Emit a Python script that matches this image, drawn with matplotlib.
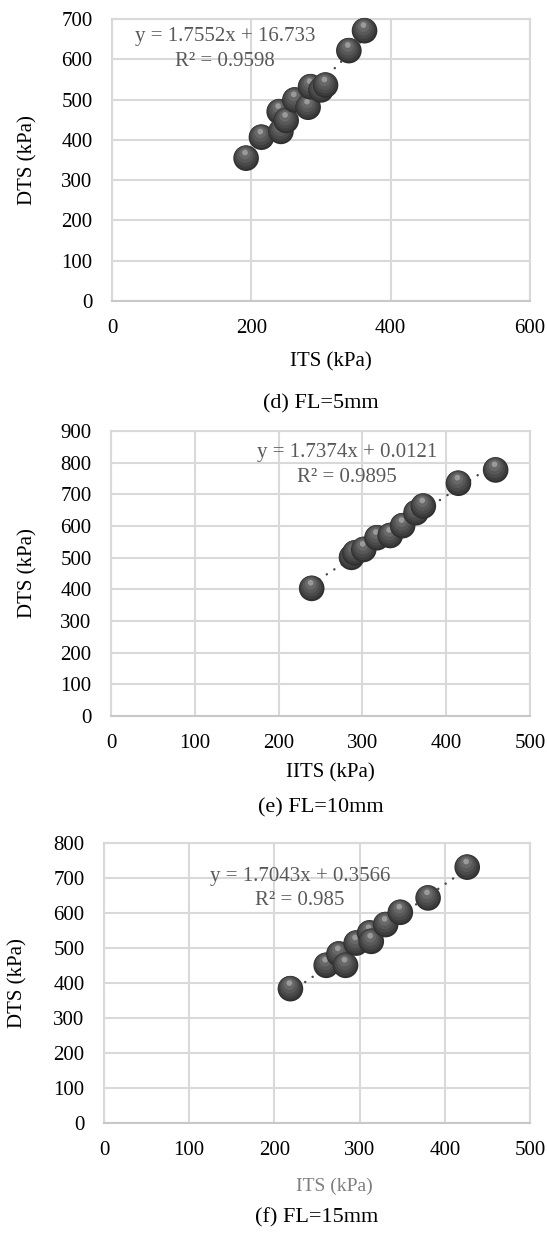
import numpy as np
import matplotlib
matplotlib.use("Agg")
import matplotlib.pyplot as plt
from matplotlib.transforms import offset_copy

plt.rcParams['font.family'] = ['Liberation Serif', 'DejaVu Serif']

# ---------------- data ----------------
its_5 = [192.5, 214.5, 240, 242.5, 250, 262.5, 281.5, 285, 300, 306.5, 340, 362.5]
dts_5 = [354.5, 406.6, 470, 421, 448, 499, 481, 532, 524, 536, 621.5, 671]

its_10 = [239.5, 287, 291, 301.6, 317.4, 333.2, 348, 364, 372.7, 414.6, 459]
dts_10 = [403, 501, 515, 526, 563, 570, 601, 642, 663, 735, 777]

its_15 = [218.8, 260.8, 275.7, 283.5, 296, 311.8, 313.7, 330.6, 347.8, 380.4, 426.3]
dts_15 = [383.8, 450.5, 483, 450.5, 514, 543, 519, 567, 602, 643, 731]

slopes = [1.7552, 1.7374, 1.7043]
intercepts = [16.733, 0.0121, 0.3566]
r2_labels = ["R² = 0.9598", "R² = 0.9895", "R² = 0.985"]
eq_labels = ["y = 1.7552x + 16.733", "y = 1.7374x + 0.0121", "y = 1.7043x + 0.3566"]
xlabels = ["ITS (kPa)", "IITS (kPa)", "ITS (kPa)"]
captions = ["(d) FL=5mm", "(e) FL=10mm", "(f) FL=15mm"]
xmaxs = [600, 500, 500]
xsteps = [200, 100, 100]
ymaxs = [700, 900, 800]

# ---------------- layout (pixels) ----------------
W, H = 547, 1237
fig = plt.figure(figsize=(W / 100, H / 100), dpi=100)

boxes = [(112, 530, 19, 301), (111, 530, 431, 716), (104, 530, 843, 1123)]
eq_pos = [(162.5, 657, 595), (281.6, 831, 752), (230, 704, 637)]
ylab_x = [28, 28, 18]
xlab_y = [362, 773, 1186]
cap_y = [404, 808, 1218]
xlab_colors = ['black', 'black', '#7f7f7f']

GRID = '#d9d9d9'
S = 340


def sphere(ax, x, y, z):
    layers = [
        (1.00, '#2f2f2f', 0.0, 0.0),
        (0.84, '#3d3d3d', -0.4, 0.9),
        (0.62, '#4a4a4a', -0.8, 2.0),
        (0.40, '#585858', -1.0, 3.2),
        (0.20, '#686868', -1.1, 4.4),
        (0.05, '#9a9a9a', -1.1, 5.6),
    ]
    for k, (f, c, dx, dy) in enumerate(layers):
        tr = offset_copy(ax.transData, fig=fig, x=dx, y=dy, units='dots')
        ax.scatter([x], [y], s=S * f, color=c, edgecolors='none',
                   transform=tr, zorder=z + k * 0.01, clip_on=False)


datasets = [(its_5, dts_5), (its_10, dts_10), (its_15, dts_15)]

for i, (xs, ys) in enumerate(datasets):
    l, r, t, b = boxes[i]
    ax = fig.add_axes([l / W, (H - b) / H, (r - l) / W, (b - t) / H])
    ax.set_xlim(0, xmaxs[i])
    ax.set_ylim(0, ymaxs[i])
    ax.set_xticks(np.arange(0, xmaxs[i] + 1, xsteps[i]))
    ax.set_yticks(np.arange(0, ymaxs[i] + 1, 100))
    ax.grid(True, color=GRID, linewidth=1.5, zorder=0)
    ax.set_axisbelow(True)
    for side, sp in ax.spines.items():
        sp.set_color(GRID)
        sp.set_linewidth(1.5)
    ax.spines['bottom'].set_color('#c8c8c8')
    ax.tick_params(length=0, labelsize=15, colors='black', pad=13)
    ax.tick_params(axis='y', pad=14)

    # trendline
    xx = np.array([min(xs), max(xs)])
    ax.plot(xx, slopes[i] * xx + intercepts[i], color='#484848', lw=1.8,
            linestyle=(0, (0.01, 3.6)), dash_capstyle='round', zorder=2)

    # points
    for j, (x, y) in enumerate(zip(xs, ys)):
        sphere(ax, x, y, 3 + j * 0.1)

    ex, ey1, ey2 = eq_pos[i]
    ax.text(ex, ey1, eq_labels[i], ha='center', va='center', fontsize=15,
            color='#595959', zorder=1)
    ax.text(ex, ey2, r2_labels[i], ha='center', va='center', fontsize=15,
            color='#595959', zorder=1)

    cx = (l + r) / 2
    fig.text(ylab_x[i] / W, 1 - ((t + b) / 2) / H, 'DTS (kPa)', rotation=90,
             ha='center', va='center', fontsize=15)
    fig.text((cx + (10 if i < 2 else 17)) / W, 1 - xlab_y[i] / H, xlabels[i],
             ha='center', va='center', fontsize=15 if i < 2 else 14,
             color=xlab_colors[i])
    fig.text(cx / W, 1 - cap_y[i] / H, captions[i], ha='center', va='center',
             fontsize=16)

fig.savefig('out.png', dpi=100)
